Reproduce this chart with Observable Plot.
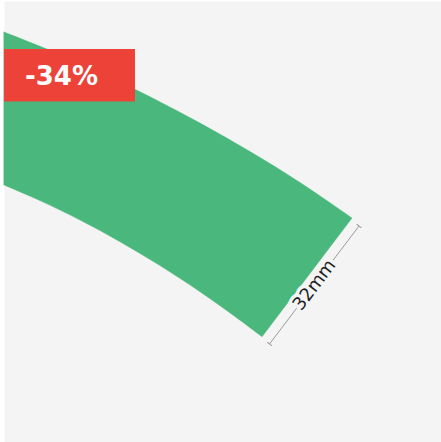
<!DOCTYPE html>
<html>
<head>
<meta charset="utf-8">
<script src="https://cdn.jsdelivr.net/npm/d3@7"></script>
<script src="https://cdn.jsdelivr.net/npm/@observablehq/plot@0.6"></script>
<style>
  html, body { margin: 0; padding: 0; background: #ffffff; }
  #chart svg { display: block; }
</style>
</head>
<body>
<div id="chart"></div>
<script>
// Band edges (picture units, y grows downward),
// paired left to right: outer (top) edge and inner (bottom) edge
const topEdgeX = [4, 50, 100, 150, 200, 250, 300, 352];
const topEdgeY = [32, 50.4, 72.6, 96.8, 123.1, 151.6, 182.5, 218];
const bottomEdgeX = [4, 40, 80, 120, 160, 200, 235, 262];
const bottomEdgeY = [185, 200.6, 220, 241.7, 265.6, 291.7, 316.5, 336.7];

// Discount badge
const badgeLabels = ["-34%"];
const badgeX = [4, 135];
const badgeY = [49, 101.5];

// Width dimension
const dimensionLabels = ["32mm"];
const dimensionStart = [269, 343.5];
const dimensionEnd = [358.5, 225.5];

const W = 441, H = 442;

const band = topEdgeX.map((x, i) => ({
  tx: x, ty: topEdgeY[i], bx: bottomEdgeX[i], by: bottomEdgeY[i]
}));
const badge = badgeLabels.map(label => ({label, x1: badgeX[0], x2: badgeX[1], y1: badgeY[0], y2: badgeY[1]}));
const dim = dimensionLabels.map(label => {
  const [x1, y1] = dimensionStart, [x2, y2] = dimensionEnd;
  return {label, x1, y1, x2, y2, mx: (x1 + x2) / 2, my: (y1 + y2) / 2,
          angle: Math.atan2(y2 - y1, x2 - x1) * 180 / Math.PI};
});

const chart = Plot.plot({
  width: W,
  height: H,
  margin: 0,
  x: {domain: [0, W], range: [0, W], axis: null},
  y: {domain: [0, H], range: [0, H], axis: null},
  style: {background: "#ffffff"},
  marks: [
    Plot.frame({fill: "#f4f4f4", insetLeft: 4, insetTop: 1}),
    Plot.area(band, {x1: "tx", y1: "ty", x2: "bx", y2: "by",
      fill: "#4ab87c", stroke: "#4ab87c", strokeWidth: 0.5, curve: "catmull-rom"}),
    Plot.rect(badge, {x1: "x1", x2: "x2", y1: "y1", y2: "y2", fill: "#ec4237"}),
    Plot.text(badge, {
      x: d => (d.x1 + d.x2) / 2 - 8.5, y: d => (d.y1 + d.y2) / 2 + 0.5,
      text: "label", fill: "#ffffff", fontSize: 26, fontWeight: "bold",
      fontFamily: "DejaVu Sans"
    }),
    Plot.link(dim, {
      x1: "x1", y1: "y1", x2: "x2", y2: "y2",
      stroke: "#9a9a9a", strokeWidth: 1, markerStart: "tick", markerEnd: "tick"
    }),
    Plot.text(dim, {
      x: "mx", y: "my", text: "label", rotate: dim[0].angle,
      fontSize: 18, fontFamily: "DejaVu Sans", fill: "#1e1e1e",
      stroke: "#f4f4f4", strokeWidth: 7, paintOrder: "stroke"
    })
  ]
});
document.getElementById("chart").append(chart);
</script>
</body>
</html>
